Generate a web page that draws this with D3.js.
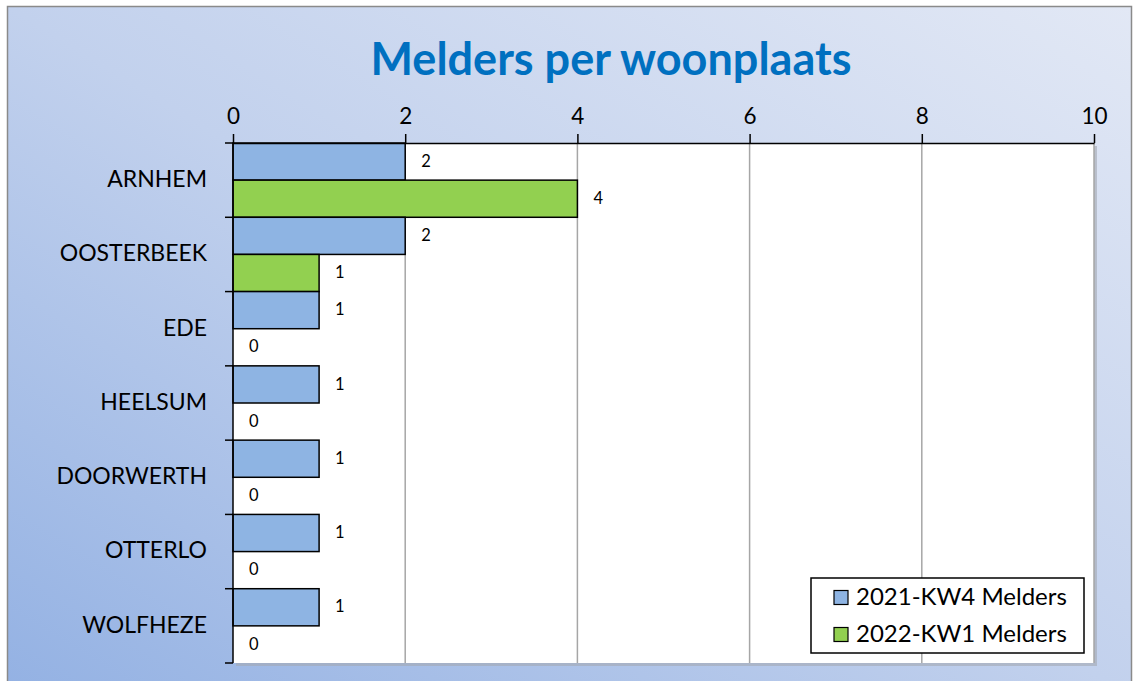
<!DOCTYPE html>
<html>
<head>
<meta charset="utf-8">
<script src="https://cdn.jsdelivr.net/npm/d3@7"></script>
<style>
  html, body { margin: 0; padding: 0; background: #ffffff; }
  svg { display: block; }
  text { font-family: Lato, "Open Sans", sans-serif; }
</style>
</head>
<body>
<svg id="chart" width="1133" height="681"></svg>
<script>
// ---- data ----
const categories = ["ARNHEM", "OOSTERBEEK", "EDE", "HEELSUM", "DOORWERTH", "OTTERLO", "WOLFHEZE"];
const seriesNames = ["2021-KW4 Melders", "2022-KW1 Melders"];
const values2021 = [2, 2, 1, 1, 1, 1, 1];
const values2022 = [4, 1, 0, 0, 0, 0, 0];
const xTicks = [0, 2, 4, 6, 8, 10];
const titleText = "Melders per woonplaats";
const colors = ["#8EB4E3", "#92D050"];

(function () {
const svg = d3.select("#chart");
const W = 1133, H = 681;

// background gradient
const defs = svg.append("defs");
const grad = defs.append("linearGradient").attr("id", "bg")
  .attr("x1", "0%").attr("y1", "100%").attr("x2", "100%").attr("y2", "0%");
grad.append("stop").attr("offset", "0%").attr("stop-color", "#93b1e3");
grad.append("stop").attr("offset", "50%").attr("stop-color", "#c2d1ed");
grad.append("stop").attr("offset", "100%").attr("stop-color", "#e2e8f5");

svg.append("rect").attr("x", 0).attr("y", 0).attr("width", W).attr("height", H).attr("fill", "#ffffff");
svg.append("rect").attr("x", 7.5).attr("y", 6.5).attr("width", 1124).attr("height", 690)
  .attr("fill", "url(#bg)").attr("stroke", "#8a8a8a").attr("stroke-width", 1.5);

// plot geometry
const pL = 233, pR = 1094, pT = 143, pB = 663;

const x = d3.scaleLinear().domain([0, 10]).range([pL, pR]);
const y = d3.scaleBand().domain(categories).range([pT, pB]).padding(0);
const ySub = d3.scaleBand().domain(seriesNames).range([0, y.bandwidth()]).padding(0);

// plot area shadow + background
svg.append("rect").attr("x", pL + 3).attr("y", pT + 3).attr("width", pR - pL).attr("height", pB - pT)
  .attr("fill", "#a3a9b3").attr("opacity", 0.6);
svg.append("rect").attr("x", pL).attr("y", pT).attr("width", pR - pL).attr("height", pB - pT)
  .attr("fill", "#ffffff");

// gridlines
svg.append("g").selectAll("line").data(xTicks.filter(d => d > 0)).join("line")
  .attr("x1", d => x(d)).attr("x2", d => x(d)).attr("y1", pT).attr("y2", pB)
  .attr("stroke", "#a6a6a6").attr("stroke-width", 1.5);

// bars
const rows = categories.map((c, i) => ({ cat: c, vals: [values2021[i], values2022[i]] }));
const g = svg.append("g");
rows.forEach(r => {
  r.vals.forEach((v, si) => {
    const yy = y(r.cat) + ySub(seriesNames[si]);
    if (v > 0) {
      g.append("rect").attr("x", x(0)).attr("y", yy).attr("width", x(v) - x(0)).attr("height", ySub.bandwidth())
        .attr("fill", colors[si]).attr("stroke", "#000").attr("stroke-width", 1.5);
    }
    g.append("text").attr("x", x(v) + 16).attr("y", yy + ySub.bandwidth() / 2 + 1)
      .attr("dominant-baseline", "middle").attr("font-size", 16.5).attr("fill", "#000").text(v);
  });
});

// top axis
const xAxis = d3.axisTop(x).tickValues(xTicks).tickSize(9).tickSizeOuter(0).tickPadding(10);
const gx = svg.append("g").attr("transform", `translate(0,${pT})`).call(xAxis);
gx.select(".domain").attr("stroke", "#000").attr("stroke-width", 1.5);
gx.selectAll(".tick line").attr("stroke", "#000").attr("stroke-width", 1.5);
gx.selectAll(".tick text").attr("font-size", 22.5).attr("font-family", "Lato, 'Open Sans', sans-serif").attr("fill", "#000");

// left axis
svg.append("line").attr("x1", pL).attr("x2", pL).attr("y1", pT).attr("y2", pB)
  .attr("stroke", "#000").attr("stroke-width", 1.5);
const boundaries = categories.map(c => y(c)).concat([pB]);
svg.append("g").selectAll("line").data(boundaries).join("line")
  .attr("x1", pL - 8).attr("x2", pL).attr("y1", d => d).attr("y2", d => d)
  .attr("stroke", "#000").attr("stroke-width", 1.5);
svg.append("g").selectAll("text").data(categories).join("text")
  .attr("x", 207).attr("y", d => y(d) + y.bandwidth() / 2 + 1)
  .attr("text-anchor", "end").attr("dominant-baseline", "middle")
  .attr("font-size", 23).attr("fill", "#000").text(d => d);

// title
svg.append("text").attr("x", 611).attr("y", 75).attr("text-anchor", "middle")
  .attr("font-size", 45).attr("font-weight", "bold").attr("fill", "#0070C0").text(titleText);

// legend
const lg = svg.append("g");
lg.append("rect").attr("x", 811).attr("y", 578).attr("width", 273).attr("height", 75)
  .attr("fill", "#fff").attr("stroke", "#000").attr("stroke-width", 1.5);
seriesNames.forEach((s, i) => {
  const cy = 597.5 + i * 37;
  lg.append("rect").attr("x", 834).attr("y", cy - 7).attr("width", 14).attr("height", 14)
    .attr("fill", colors[i]).attr("stroke", "#000").attr("stroke-width", 1.2);
  lg.append("text").attr("x", 856).attr("y", cy + 1).attr("dominant-baseline", "middle")
    .attr("font-size", 24).attr("fill", "#000").text(s);
});
})();
</script>
</body>
</html>
